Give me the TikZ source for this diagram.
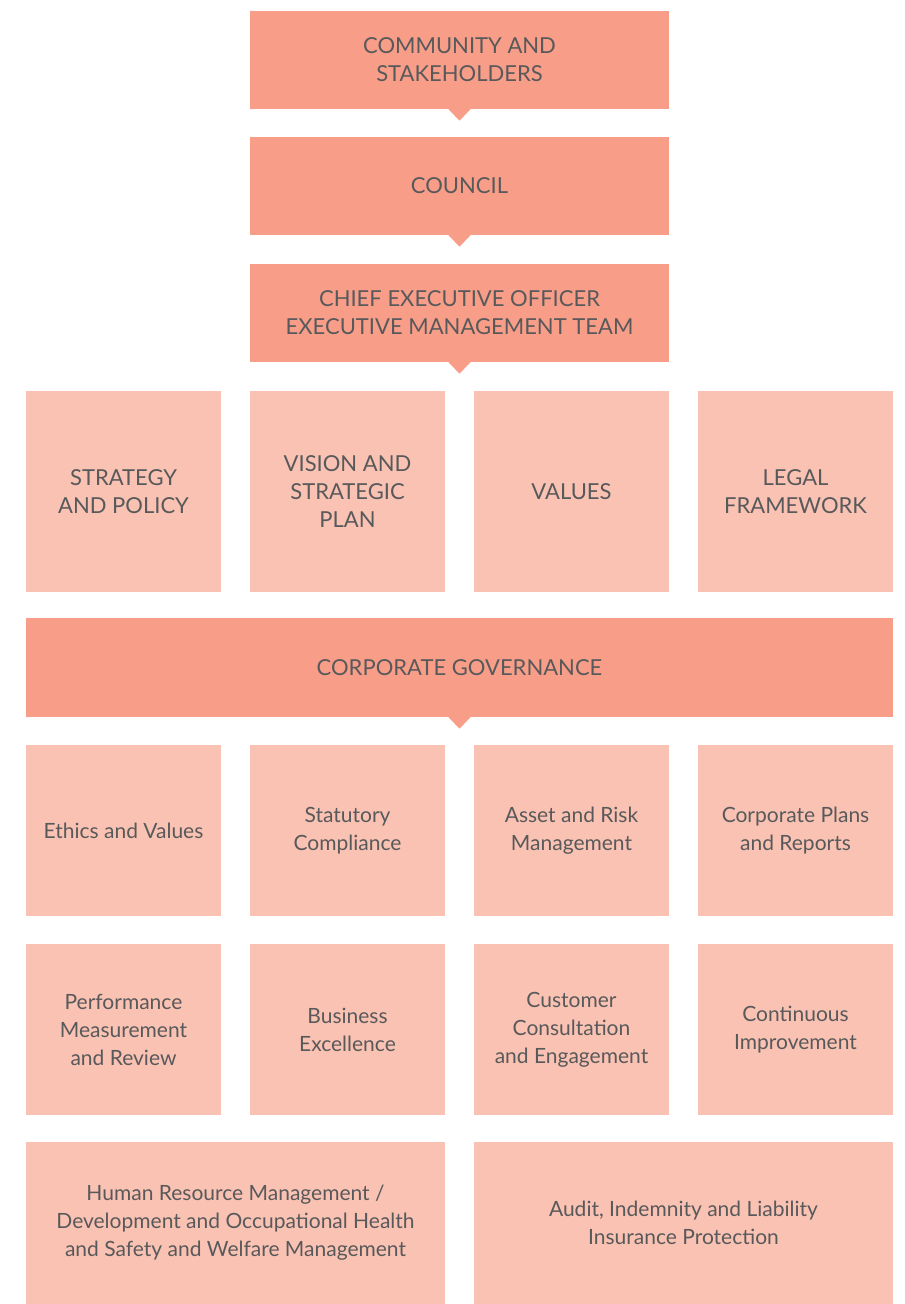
\documentclass[tikz,border=0pt]{standalone}
\usepackage{fontspec}
\setmainfont{Lato}
\usetikzlibrary{positioning}
\definecolor{govdark}{HTML}{F89E88}
\definecolor{govlight}{HTML}{FAC2B2}
\definecolor{govtext}{HTML}{58595B}
\tikzset{
  head/.style={fill=govdark, text=govtext, align=center, inner sep=0pt,
    minimum width=419pt, minimum height=98pt, font=\fontsize{22}{28}\selectfont},
  tile/.style={fill=govlight, text=govtext, align=center, inner sep=0pt,
    minimum width=195pt, font=\fontsize{21}{28}\selectfont},
  caps/.style={font=\fontsize{22}{28}\selectfont},
  pointer/.style={fill=govdark}
}

\begin{document}
\begin{tikzpicture}[x=1pt, y=-1pt]
      \useasboundingbox (0,0) rectangle (905,1304);
      % chain of command at the top
      \node[head] (comm) at (459.5,60) {COMMUNITY AND\\STAKEHOLDERS};
      \node[head] (council) at (459.5,186) {COUNCIL};
      \node[head] (ceo) at (459.5,313) {CHIEF EXECUTIVE OFFICER\\EXECUTIVE MANAGEMENT TEAM};
      % first row of tiles
      \node[tile, caps, minimum height=201pt] (strat) at (123.5,491.5) {STRATEGY\\AND POLICY};
      \node[tile, caps, minimum height=201pt] (vision) at (347.5,491.5) {VISION AND\\STRATEGIC\\PLAN};
      \node[tile, caps, minimum height=201pt] (values) at (571.5,491.5) {VALUES};
      \node[tile, caps, minimum height=201pt] (legal) at (795.5,491.5) {LEGAL\\FRAMEWORK};
      % governance bar
      \node[head, minimum width=867pt, minimum height=99pt] (gov) at (459.5,667.5) {CORPORATE GOVERNANCE};
      % second row
      \node[tile, minimum height=171pt] (ethics) at (123.5,830.5) {Ethics and Values};
      \node[tile, minimum height=171pt] (statut) at (347.5,830.5) {Statutory\\Compliance};
      \node[tile, minimum height=171pt] (asset) at (571.5,830.5) {Asset and Risk\\Management};
      \node[tile, minimum height=171pt] (plans) at (795.5,830.5) {Corporate Plans\\and Reports};
      % third row
      \node[tile, minimum height=171pt] (perf) at (123.5,1029.5) {Performance\\Measurement\\and Review};
      \node[tile, minimum height=171pt] (busex) at (347.5,1029.5) {Business\\Excellence};
      \node[tile, minimum height=171pt] (cust) at (571.5,1029.5) {Customer\\Consultation\\and Engagement};
      \node[tile, minimum height=171pt] (contin) at (795.5,1029.5) {Continuous\\Improvement};
      % bottom row
      \node[tile, minimum width=419pt, minimum height=162pt] (hrm) at (235.5,1223) {Human Resource Management /\\Development and Occupational Health\\and Safety and Welfare Management};
      \node[tile, minimum width=419pt, minimum height=162pt] (audit) at (683.5,1223) {Audit, Indemnity and Liability\\Insurance Protection};
      % small pointers under the dark boxes
      \foreach \n in {comm,council,ceo,gov}
        \fill[pointer] (\n.south) ++(-11.5,-0.5) -- ++(11.5,12) -- ++(11.5,-12) -- cycle;
    \end{tikzpicture}
\end{document}
